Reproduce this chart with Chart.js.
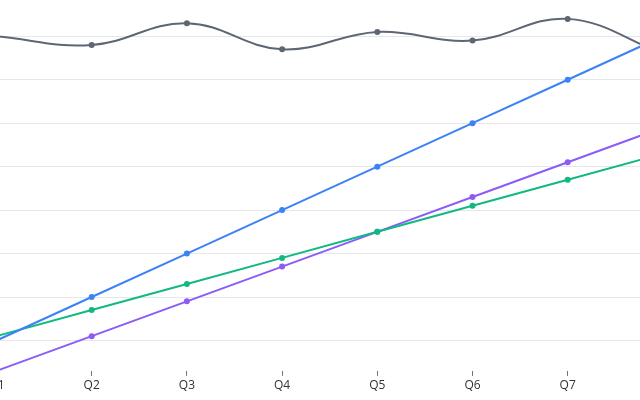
<!DOCTYPE html>
<html>
<head>
<meta charset="utf-8">
<script src="https://cdn.jsdelivr.net/npm/chart.js@4/dist/chart.umd.min.js"></script>
<style>
  html, body { margin: 0; padding: 0; background: #fff; overflow: hidden; width: 640px; height: 400px; }
  #trendChart { position: absolute; left: -40px; top: -30px; }
</style>
</head>
<body>
<canvas id="trendChart" width="740" height="431"></canvas>
<script>
var quarters = ['Q1', 'Q2', 'Q3', 'Q4', 'Q5', 'Q6', 'Q7', 'Q8'];
var seriesGray = [80, 78, 83, 77, 81, 79, 84, 76];
var seriesBlue = [10, 20, 30, 40, 50, 60, 70, 80];
var seriesGreen = [11, 17, 23, 29, 35, 41, 47, 53];
var seriesPurple = [3, 11, 19, 27, 35, 43, 51, 59];

function line(data, color, tension) {
    return {
        data: data,
        borderColor: color,
        backgroundColor: color,
        borderWidth: 2,
        pointRadius: 3,
        pointHoverRadius: 3,
        pointBorderWidth: 0,
        fill: false,
        tension: tension,
        clip: false
    };
}

var ctx = document.getElementById('trendChart').getContext('2d');
new Chart(ctx, {
    type: 'line',
    data: {
        labels: quarters,
        datasets: [
            line(seriesGray, '#5f6673', 0.4),
            line(seriesBlue, '#3b82f6', 0),
            line(seriesGreen, '#10b981', 0),
            line(seriesPurple, '#8b5cf6', 0)
        ]
    },
    options: {
        responsive: false,
        animation: false,
        devicePixelRatio: 1,
        layout: { padding: { left: 36.5, right: 37.1, top: 22.8, bottom: 0 } },
        plugins: {
            legend: { display: false },
            tooltip: { enabled: false }
        },
        scales: {
            x: {
                offset: false,
                border: { display: false },
                grid: { drawOnChartArea: false, tickLength: 5, tickColor: '#6b7280' },
                ticks: { color: '#333333', padding: 2, font: { family: 'Open Sans', size: 12 } },
                afterFit: function (s) { s.height = 30.1; }
            },
            y: {
                min: 3,
                max: 90,
                border: { display: false },
                grid: { color: '#e5e7eb', drawTicks: false },
                ticks: { display: false, stepSize: 10 },
                afterBuildTicks: function (s) {
                    s.ticks = s.ticks.filter(function (t) { return t.value % 10 === 0; });
                },
                afterFit: function (s) { s.width = 0; }
            }
        }
    }
});
</script>
</body>
</html>
